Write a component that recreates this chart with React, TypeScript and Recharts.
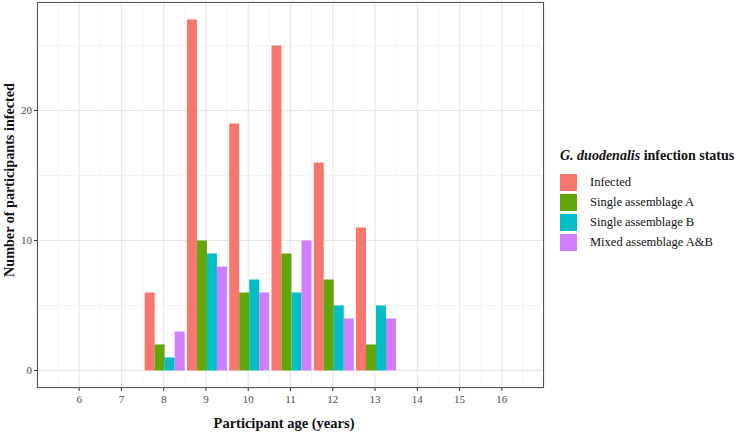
import { BarChart, Bar, XAxis, YAxis, CartesianGrid } from "recharts";

const ages = ["6", "7", "8", "9", "10", "11", "12", "13", "14", "15", "16"];
const infected = [null, null, 6, 27, 19, 25, 16, 11, null, null, null];
const singleA = [null, null, 2, 10, 6, 9, 7, 2, null, null, null];
const singleB = [null, null, 1, 9, 7, 6, 5, 5, null, null, null];
const mixedAB = [null, null, 3, 8, 6, 10, 4, 4, null, null, null];

const yMajor = [0, 10, 20];
const yMinor = [5, 15, 25];

const series = [
  { key: "infected", name: "Infected", color: "#F8766D" },
  { key: "singleA", name: "Single assemblage A", color: "#62A60A" },
  { key: "singleB", name: "Single assemblage B", color: "#00BEC4" },
  { key: "mixedAB", name: "Mixed assemblage A&B", color: "#D07DFF" },
];

const data = ages.map((age, i) => ({
  age,
  infected: infected[i],
  singleA: singleA[i],
  singleB: singleB[i],
  mixedAB: mixedAB[i],
}));

const font = "'Liberation Serif', 'DejaVu Serif', serif";

// minor vertical lines halfway between the age categories, from the band scale
const minorVertical = ({ xAxis }: any) => {
  try {
    const s = xAxis?.scale;
    if (!s) return [];
    const f = typeof s === "function" ? s : (v: string) => s.map(v);
    const bw = typeof s.bandwidth === "function" ? s.bandwidth() : 0;
    const step = f(ages[1]) - f(ages[0]);
    const pts = ages.map((a) => f(a) + bw / 2 - step / 2);
    pts.push(f(ages[ages.length - 1]) + bw / 2 + step / 2);
    return pts.filter((p) => Number.isFinite(p));
  } catch (e) {
    return [];
  }
};

// legend drawn outside the chart so it doesn't shrink the plot area
const LegendBox = () => (
  <div style={{ position: "absolute", left: 560, top: 148, fontFamily: font, color: "#111" }}>
    <div style={{ fontWeight: "bold", fontSize: 14, marginBottom: 8 }}>
      <i>G. duodenalis</i> infection status
    </div>
    {series.map((s) => (
      <div key={s.key} style={{ display: "flex", alignItems: "center", height: 20 }}>
        <span style={{ width: 17, height: 17, background: s.color, display: "inline-block" }} />
        <span style={{ marginLeft: 13, fontSize: 12.5 }}>{s.name}</span>
      </div>
    ))}
  </div>
);

export default function App() {
  return (
    <div style={{ position: "fixed", left: 0, top: 0, width: 748, height: 442, background: "#fff" }}>
      <BarChart
        width={748}
        height={442}
        data={data}
        margin={{ top: 2, right: 204, bottom: 24, left: 0 }}
        barCategoryGap="5%"
        barGap={0}
      >
        <XAxis
          dataKey="age"
          padding={{ left: 21, right: 21 }}
          axisLine={false}
          tickLine={{ stroke: "#333" }}
          tickSize={3}
          tick={{ fill: "#4d4d4d", fontSize: 11, fontFamily: font, dy: 2 }}
          height={30}
          interval={0}
        />
        <YAxis
          domain={[-1.35, 28.35]}
          ticks={yMajor}
          axisLine={false}
          tickLine={{ stroke: "#333" }}
          tickSize={3}
          tick={{ fill: "#4d4d4d", fontSize: 11, fontFamily: font }}
          width={37}
          allowDataOverflow
        />
        <YAxis yAxisId="minor" domain={[-1.35, 28.35]} ticks={yMinor} hide allowDataOverflow />
        <CartesianGrid
          yAxisId="minor"
          stroke="#f1f1f1"
          strokeWidth={0.8}
          verticalCoordinatesGenerator={minorVertical}
        />
        <CartesianGrid stroke="#e8e8e8" strokeWidth={1.2} />
        {series.map((s) => (
          <Bar key={s.key} dataKey={s.key} name={s.name} fill={s.color} isAnimationActive={false} />
        ))}
      </BarChart>
      <LegendBox />
      <div
        style={{
          position: "absolute",
          left: 37,
          top: 2,
          width: 507,
          height: 386,
          boxSizing: "border-box",
          border: "1.3px solid #555",
          pointerEvents: "none",
        }}
      />
      <div
        style={{
          position: "absolute",
          left: 184,
          width: 200,
          top: 415,
          textAlign: "center",
          fontFamily: font,
          fontWeight: "bold",
          fontSize: 14.5,
          color: "#111",
        }}
      >
        Participant age (years)
      </div>
      <div
        style={{
          position: "absolute",
          left: 9,
          top: 180,
          transform: "translate(-50%, -50%) rotate(-90deg)",
          whiteSpace: "nowrap",
          fontFamily: font,
          fontWeight: "bold",
          fontSize: 14.2,
          color: "#111",
        }}
      >
        Number of participants infected
      </div>
    </div>
  );
}
